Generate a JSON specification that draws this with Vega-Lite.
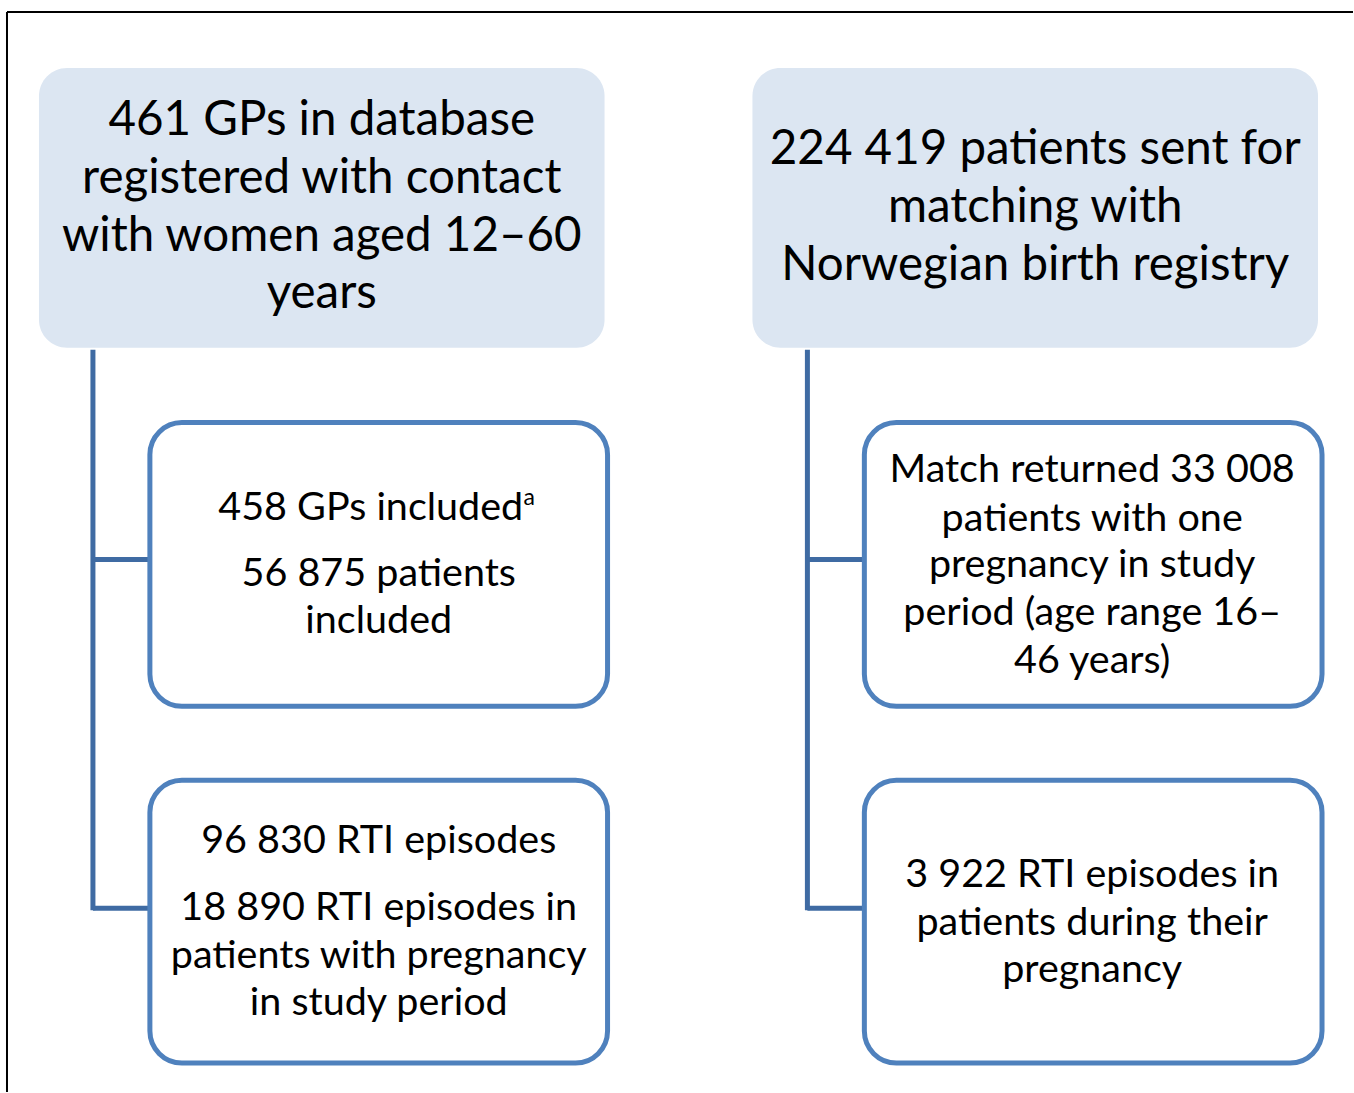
{
  "$schema": "https://vega.github.io/schema/vega-lite/v6.json",
  "width": 1354,
  "height": 1093,
  "autosize": {"type": "fit", "contains": "padding"},
  "padding": 0,
  "background": "white",
  "view": {"stroke": null},
  "config": {"text": {"font": "Lato"}},
  "datasets": {
    "boxes": [
      {"x": 39, "x2": 605, "y": 68, "y2": 348, "kind": "header"},
      {"x": 753, "x2": 1319, "y": 68, "y2": 348, "kind": "header"},
      {"x": 150, "x2": 608, "y": 423, "y2": 707, "kind": "detail"},
      {"x": 150, "x2": 608, "y": 781, "y2": 1064, "kind": "detail"},
      {"x": 865, "x2": 1323, "y": 423, "y2": 707, "kind": "detail"},
      {"x": 865, "x2": 1323, "y": 781, "y2": 1064, "kind": "detail"}
    ],
    "links": [
      {"x": 93, "x2": 93, "y": 350, "y2": 911},
      {"x": 93, "x2": 150, "y": 560, "y2": 560},
      {"x": 93, "x2": 150, "y": 909, "y2": 909},
      {"x": 808, "x2": 808, "y": 350, "y2": 911},
      {"x": 808, "x2": 865, "y": 560, "y2": 560},
      {"x": 808, "x2": 865, "y": 909, "y2": 909}
    ],
    "frame": [
      {"x": 7, "x2": 7, "y": 12, "y2": 1093},
      {"x": 7, "x2": 1354, "y": 12, "y2": 12}
    ],
    "lines": [
      {"x": 322, "y": 121, "text": "461 GPs in database", "kind": "header"},
      {"x": 322, "y": 179, "text": "registered with contact", "kind": "header"},
      {"x": 322, "y": 237, "text": "with women aged 12–60", "kind": "header"},
      {"x": 322, "y": 294, "text": "years", "kind": "header"},
      {"x": 1036, "y": 150, "text": "224 419 patients sent for", "kind": "header"},
      {"x": 1036, "y": 208, "text": "matching with", "kind": "header"},
      {"x": 1036, "y": 266, "text": "Norwegian birth registry", "kind": "header"},
      {"x": 371, "y": 508, "text": "458 GPs included", "kind": "detail"},
      {"x": 379, "y": 575, "text": "56 875 patients", "kind": "detail"},
      {"x": 379, "y": 622, "text": "included", "kind": "detail"},
      {"x": 379, "y": 842, "text": "96 830 RTI episodes", "kind": "detail"},
      {"x": 379, "y": 909, "text": "18 890 RTI episodes in", "kind": "detail"},
      {"x": 379, "y": 957, "text": "patients with pregnancy", "kind": "detail"},
      {"x": 379, "y": 1004, "text": "in study period", "kind": "detail"},
      {"x": 1093, "y": 470, "text": "Match returned 33 008", "kind": "detail"},
      {"x": 1093, "y": 519, "text": "patients with one", "kind": "detail"},
      {"x": 1093, "y": 566, "text": "pregnancy in study", "kind": "detail"},
      {"x": 1093, "y": 614, "text": "period (age range 16–", "kind": "detail"},
      {"x": 1093, "y": 662, "text": "46 years)", "kind": "detail"},
      {"x": 1093, "y": 876, "text": "3 922 RTI episodes in", "kind": "detail"},
      {"x": 1093, "y": 924, "text": "patients during their", "kind": "detail"},
      {"x": 1093, "y": 971, "text": "pregnancy", "kind": "detail"}
    ],
    "notes": [
      {"x": 524, "y": 498, "text": "a"}
    ]
  },
  "layer": [
    {
      "data": {"name": "frame"},
      "mark": {"type": "rule", "color": "black", "strokeWidth": 2},
      "encoding": {
        "x": {"field": "x", "type": "quantitative", "scale": {"domain": [0, 1354], "nice": false, "zero": false}, "axis": null},
        "x2": {"field": "x2"},
        "y": {"field": "y", "type": "quantitative", "scale": {"domain": [0, 1093], "nice": false, "zero": false, "reverse": true}, "axis": null},
        "y2": {"field": "y2"}
      }
    },
    {
      "data": {"name": "boxes"},
      "transform": [{"filter": "datum.kind === 'header'"}],
      "mark": {"type": "rect", "fill": "#dce6f2", "cornerRadius": 28},
      "encoding": {
        "x": {"field": "x", "type": "quantitative"},
        "x2": {"field": "x2"},
        "y": {"field": "y", "type": "quantitative"},
        "y2": {"field": "y2"}
      }
    },
    {
      "data": {"name": "links"},
      "mark": {"type": "rule", "color": "#3f6ba3", "strokeWidth": 5},
      "encoding": {
        "x": {"field": "x", "type": "quantitative"},
        "x2": {"field": "x2"},
        "y": {"field": "y", "type": "quantitative"},
        "y2": {"field": "y2"}
      }
    },
    {
      "data": {"name": "boxes"},
      "transform": [{"filter": "datum.kind === 'detail'"}],
      "mark": {"type": "rect", "fill": "white", "stroke": "#4f81bd", "strokeWidth": 5, "cornerRadius": 32},
      "encoding": {
        "x": {"field": "x", "type": "quantitative"},
        "x2": {"field": "x2"},
        "y": {"field": "y", "type": "quantitative"},
        "y2": {"field": "y2"}
      }
    },
    {
      "data": {"name": "lines"},
      "transform": [{"filter": "datum.kind === 'header'"}],
      "mark": {"type": "text", "fontSize": 47.5, "color": "black", "align": "center", "baseline": "middle"},
      "encoding": {
        "x": {"field": "x", "type": "quantitative"},
        "y": {"field": "y", "type": "quantitative"},
        "text": {"field": "text"}
      }
    },
    {
      "data": {"name": "lines"},
      "transform": [{"filter": "datum.kind === 'detail'"}],
      "mark": {"type": "text", "fontSize": 39.5, "color": "black", "align": "center", "baseline": "middle"},
      "encoding": {
        "x": {"field": "x", "type": "quantitative"},
        "y": {"field": "y", "type": "quantitative"},
        "text": {"field": "text"}
      }
    },
    {
      "data": {"name": "notes"},
      "mark": {"type": "text", "fontSize": 23, "color": "black", "align": "left", "baseline": "middle"},
      "encoding": {
        "x": {"field": "x", "type": "quantitative"},
        "y": {"field": "y", "type": "quantitative"},
        "text": {"field": "text"}
      }
    }
  ]
}
